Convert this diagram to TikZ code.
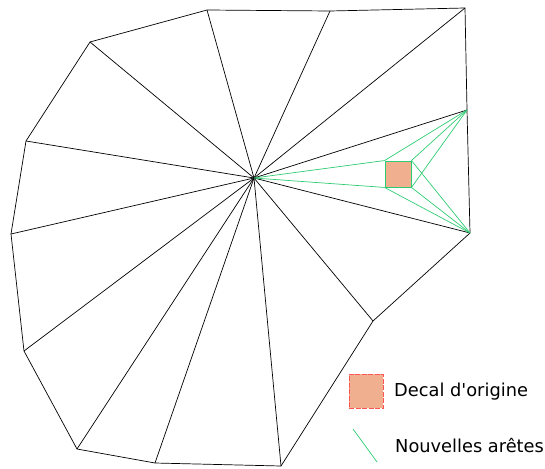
\documentclass[tikz,border=0pt]{standalone}
\usepackage{fontspec}
\setmainfont{DejaVu Sans}
\usepackage{tikz}
\usetikzlibrary{positioning}
\usepackage{xcolor}
\definecolor{edgegreen}{RGB}{46,204,113}
\definecolor{decalfill}{RGB}{240,176,144}
\definecolor{decalred}{RGB}{255,85,85}

\begin{document}
\begin{tikzpicture}[
    x=1pt, y=-1pt,
    edge/.style={
        line width=0.7pt,
        color=black
    },
    newedge/.style={
        line width=0.7pt,
        color=edgegreen
    },
    decal/.style={
        rectangle,
        draw=edgegreen,
        line width=0.9pt,
        fill=decalfill,
        inner sep=0pt,
        minimum size=26pt
    },
    legdecal/.style={
        rectangle,
        draw=decalred,
        line width=0.9pt,
        dashed,
        dash pattern=on 5pt off 1.5pt,
        fill=decalfill,
        inner sep=0pt,
        minimum size=34pt
    },
    legtext/.style={
        anchor=base west,
        inner sep=0pt,
        font=\fontsize{17.8}{20}\selectfont
    }
]

\useasboundingbox (0,0) rectangle (545,468);

% polygon vertices and centre
\coordinate (c)   at (254,178);
\coordinate (p1)  at (207,10);
\coordinate (p2)  at (330,11);
\coordinate (p3)  at (465,8);
\coordinate (p4)  at (467,110);
\coordinate (p5)  at (470,233);
\coordinate (p6)  at (373,321);
\coordinate (p7)  at (281,466);
\coordinate (p8)  at (155,463);
\coordinate (p9)  at (77,449);
\coordinate (p10) at (24,351);
\coordinate (p11) at (11,234);
\coordinate (p12) at (26,141);
\coordinate (p13) at (90,42);

\draw[edge] (p1) -- (p2) -- (p3) -- (p4) -- (p5) -- (p6) -- (p7)
    -- (p8) -- (p9) -- (p10) -- (p11) -- (p12) -- (p13) -- cycle;

\draw[edge] (c) -- (p1);
\draw[edge] (c) -- (p2);
\draw[edge] (c) -- (p3);
\draw[edge] (c) -- (p4);
\draw[edge] (c) -- (p5);
\draw[edge] (c) -- (p6);
\draw[edge] (c) -- (p7);
\draw[edge] (c) -- (p8);
\draw[edge] (c) -- (p9);
\draw[edge] (c) -- (p10);
\draw[edge] (c) -- (p11);
\draw[edge] (c) -- (p12);
\draw[edge] (c) -- (p13);

% decal and new edges
\node[decal] (dec) at (398,174) {};

\draw[newedge] (c) -- (dec.north west);
\draw[newedge] (c) -- (dec.south west);
\draw[newedge] (dec.north west) -- (p4);
\draw[newedge] (dec.north east) -- (p4);
\draw[newedge] (dec.south east) -- (p4);
\draw[newedge] (dec.south west) -- (p5);
\draw[newedge] (dec.south east) -- (p5);
\draw[newedge] (dec.north east) -- (p5);

% legend
\node[legdecal] (legdec) at (366,391) {};
\node[legtext] (legdectext) at (394,396) {Decal d\textquotesingle origine};

\coordinate (legA) at (353,429);
\coordinate (legB) at (377,462);
\draw[newedge] (legA) -- (legB);
\node[legtext] (legedgetext) at (395,452) {Nouvelles arêtes};

\end{tikzpicture}
\end{document}
